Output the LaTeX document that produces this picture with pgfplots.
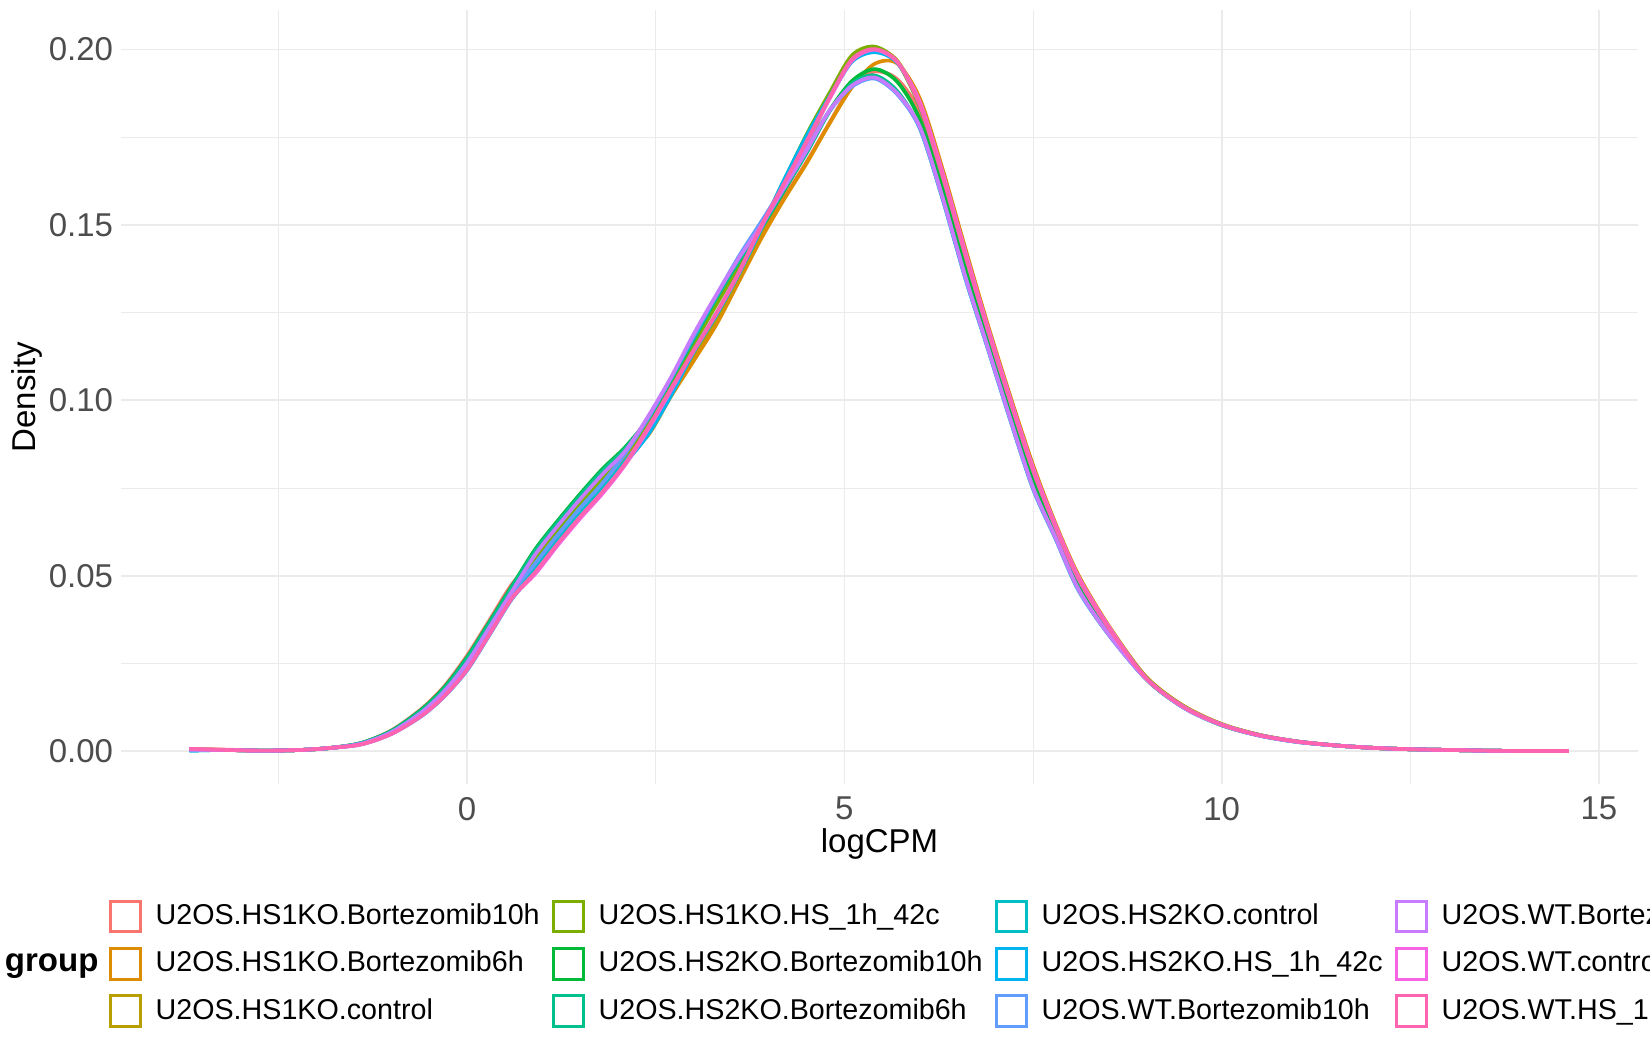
\documentclass[border=0pt]{standalone}
\usepackage{fontspec}
\setmainfont{Liberation Sans}
\usepackage{pgfplots}
\usepackage{pgfplotstable}
\pgfplotsset{compat=1.18}
\definecolor{c1}{HTML}{F8766D}
\definecolor{c2}{HTML}{DE8C00}
\definecolor{c3}{HTML}{B79F00}
\definecolor{c4}{HTML}{7CAE00}
\definecolor{c5}{HTML}{00BA38}
\definecolor{c6}{HTML}{00C08B}
\definecolor{c7}{HTML}{00BFC4}
\definecolor{c8}{HTML}{00B4F0}
\definecolor{c9}{HTML}{619CFF}
\definecolor{c10}{HTML}{C77CFF}
\definecolor{c11}{HTML}{F564E3}
\definecolor{c12}{HTML}{FF64B0}
\definecolor{grey92}{HTML}{EBEBEB}
\definecolor{grey30}{HTML}{4D4D4D}
\pgfplotstableread{
x s1 s2 s3 s4 s5 s6 s7 s8 s9 s10 s11 s12
-3.68 0.0007 0.0006 0.0004 0.0005 0.0004 0.0003 0.0002 0.0002 0.0004 0.0005 0.0006 0.0007
-3.2 0.0005 0.0004 0.0004 0.0004 0.0004 0.0004 0.0004 0.0004 0.0004 0.0004 0.0004 0.0004
-2.7 0.0002 0.0002 0.0002 0.0002 0.0002 0.0002 0.0002 0.0002 0.0002 0.0002 0.0002 0.0002
-2.2 0.0004 0.0004 0.0004 0.0004 0.0004 0.0004 0.0004 0.0004 0.0004 0.0004 0.0004 0.0004
-1.8 0.0010 0.0010 0.0010 0.0010 0.0010 0.0010 0.0010 0.0010 0.0010 0.0010 0.0010 0.0010
-1.4 0.0024 0.0022 0.0022 0.0022 0.0024 0.0024 0.0022 0.0020 0.0022 0.0022 0.0020 0.0020
-1.0 0.0060 0.0056 0.0056 0.0056 0.0059 0.0058 0.0051 0.0050 0.0054 0.0055 0.0050 0.0050
-0.6 0.0122 0.0115 0.0115 0.0115 0.0120 0.0118 0.0105 0.0101 0.0110 0.0112 0.0102 0.0102
-0.3 0.0186 0.0176 0.0176 0.0176 0.0183 0.0180 0.0162 0.0157 0.0168 0.0172 0.0158 0.0158
0.0 0.0273 0.0258 0.0258 0.0258 0.0268 0.0265 0.0238 0.0231 0.0248 0.0253 0.0233 0.0233
0.3 0.0375 0.0360 0.0360 0.0360 0.0370 0.0367 0.0340 0.0333 0.0350 0.0355 0.0335 0.0335
0.6 0.0478 0.0463 0.0463 0.0463 0.0473 0.0470 0.0443 0.0436 0.0453 0.0458 0.0438 0.0438
0.9 0.0545 0.0540 0.0540 0.0550 0.0575 0.0570 0.0520 0.0510 0.0535 0.0560 0.0505 0.0510
1.2 0.0627 0.0622 0.0622 0.0632 0.0657 0.0652 0.0602 0.0592 0.0617 0.0642 0.0587 0.0592
1.5 0.0704 0.0699 0.0699 0.0709 0.0734 0.0729 0.0679 0.0669 0.0694 0.0719 0.0664 0.0669
1.8 0.0776 0.0771 0.0771 0.0781 0.0806 0.0801 0.0751 0.0741 0.0766 0.0791 0.0736 0.0741
2.1 0.0846 0.0843 0.0843 0.0850 0.0868 0.0864 0.0829 0.0822 0.0850 0.0857 0.0818 0.0822
2.4 0.0913 0.0901 0.0913 0.0933 0.0948 0.0948 0.0908 0.0903 0.0950 0.0955 0.0918 0.0923
2.7 0.1023 0.1011 0.1023 0.1043 0.1058 0.1058 0.1018 0.1013 0.1063 0.1065 0.1028 0.1033
3.0 0.1122 0.1112 0.1130 0.1160 0.1175 0.1173 0.1141 0.1137 0.1182 0.1188 0.1141 0.1141
3.3 0.1228 0.1215 0.1232 0.1272 0.1292 0.1290 0.1247 0.1242 0.1298 0.1300 0.1247 0.1247
3.6 0.1348 0.1338 0.1352 0.1383 0.1398 0.1396 0.1364 0.1360 0.1410 0.1405 0.1364 0.1364
3.9 0.1470 0.1462 0.1482 0.1495 0.1492 0.1492 0.1492 0.1490 0.1510 0.1500 0.1495 0.1498
4.2 0.1578 0.1573 0.1600 0.1625 0.1597 0.1600 0.1628 0.1627 0.1612 0.1605 0.1615 0.1618
4.5 0.1680 0.1676 0.1725 0.1758 0.1708 0.1705 0.1755 0.1752 0.1715 0.1712 0.1735 0.1739
4.8 0.1790 0.1788 0.1862 0.1875 0.1825 0.1822 0.1865 0.1862 0.1825 0.1825 0.1858 0.1862
5.1 0.1896 0.1892 0.1975 0.1983 0.1910 0.1903 0.1968 0.1965 0.1894 0.1897 0.1968 0.1972
5.4 0.1937 0.1959 0.2003 0.2008 0.1944 0.1926 0.1995 0.1992 0.1917 0.1920 0.1999 0.2001
5.7 0.1915 0.1960 0.1968 0.1964 0.1908 0.1881 0.1965 0.1962 0.1872 0.1875 0.1964 0.1965
6.0 0.1820 0.1860 0.1845 0.1835 0.1800 0.1775 0.1840 0.1845 0.1775 0.1780 0.1850 0.1840
6.3 0.1620 0.1660 0.1645 0.1635 0.1600 0.1575 0.1640 0.1645 0.1575 0.1580 0.1650 0.1640
6.6 0.1395 0.1435 0.1420 0.1410 0.1375 0.1350 0.1415 0.1420 0.1350 0.1355 0.1425 0.1415
6.9 0.1184 0.1216 0.1204 0.1196 0.1168 0.1148 0.1200 0.1204 0.1148 0.1152 0.1208 0.1200
7.2 0.0979 0.1011 0.0999 0.0991 0.0963 0.0943 0.0995 0.0999 0.0943 0.0947 0.1003 0.0995
7.5 0.0784 0.0816 0.0804 0.0796 0.0768 0.0748 0.0800 0.0804 0.0748 0.0752 0.0808 0.0800
7.8 0.0628 0.0648 0.0640 0.0635 0.0618 0.0605 0.0637 0.0640 0.0605 0.0608 0.0643 0.0637
8.1 0.0483 0.0503 0.0495 0.0490 0.0473 0.0460 0.0492 0.0495 0.0460 0.0463 0.0498 0.0492
8.5 0.0347 0.0359 0.0354 0.0351 0.0341 0.0333 0.0352 0.0354 0.0333 0.0334 0.0356 0.0352
9.0 0.0208 0.0212 0.0211 0.0208 0.0205 0.0206 0.0208 0.0208 0.0206 0.0206 0.0208 0.0208
9.5 0.0126 0.0129 0.0128 0.0126 0.0124 0.0124 0.0126 0.0126 0.0124 0.0124 0.0126 0.0126
10.0 0.0076 0.0078 0.0077 0.0076 0.0074 0.0075 0.0076 0.0076 0.0075 0.0075 0.0076 0.0076
10.5 0.0046 0.0047 0.0047 0.0046 0.0045 0.0045 0.0046 0.0046 0.0045 0.0045 0.0046 0.0046
11.0 0.0028 0.0028 0.0028 0.0028 0.0027 0.0027 0.0028 0.0028 0.0027 0.0027 0.0028 0.0028
11.5 0.0017 0.0017 0.0017 0.0017 0.0017 0.0017 0.0017 0.0017 0.0017 0.0017 0.0017 0.0017
12.0 0.0010 0.0010 0.0010 0.0010 0.0010 0.0010 0.0010 0.0010 0.0010 0.0010 0.0010 0.0010
12.5 0.0006 0.0006 0.0006 0.0006 0.0006 0.0006 0.0006 0.0006 0.0006 0.0006 0.0006 0.0006
13.0 0.0004 0.0004 0.0004 0.0004 0.0004 0.0004 0.0004 0.0004 0.0004 0.0004 0.0004 0.0004
13.5 0.0002 0.0002 0.0002 0.0002 0.0002 0.0002 0.0002 0.0002 0.0002 0.0002 0.0002 0.0002
14.0 0.0001 0.0001 0.0001 0.0001 0.0001 0.0001 0.0001 0.0001 0.0001 0.0001 0.0001 0.0001
14.6 0.0001 0.0001 0.0001 0.0001 0.0001 0.0001 0.0001 0.0001 0.0001 0.0001 0.0001 0.0001
}\dens
\begin{document}
\begin{tikzpicture}
\useasboundingbox (0,0) rectangle (495pt,315pt);
\begin{axis}[
  at={(36.3pt,79.8pt)}, anchor=south west,
  scale only axis, width=455.1pt, height=232.05pt,
  xmin=-4.587, xmax=15.517, ymin=-0.0093, ymax=0.2111,
  axis line style={draw=none},
  major tick length=0pt, minor tick length=0pt,
  xtick={0,5,10,15}, xticklabels={0,5,10,15},
  ytick={0,0.05,0.1,0.15,0.2}, yticklabels={0.00,0.05,0.10,0.15,0.20},
  minor xtick={-2.5,2.5,7.5,12.5}, minor ytick={0.025,0.075,0.125,0.175},
  grid=both,
  major grid style={draw=grey92, line width=0.55pt},
  minor grid style={draw=grey92, line width=0.3pt},
  tick label style={font=\fontsize{9.9}{11}\selectfont, text=grey30},
  xticklabel style={anchor=north, inner sep=0pt, yshift=-3.7pt},
  yticklabel style={anchor=east, inner sep=0pt, xshift=-2.2pt},
  legend columns=3, transpose legend,
  legend cell align=left,
  legend style={at={(-0.00769,-0.14954)}, anchor=north west, draw=none, fill=none,
    inner sep=0pt, outer sep=0pt, font=\fontsize{8.6}{10}\selectfont,
    nodes={inner sep=0pt}, row sep=4.1pt,
    /tikz/every odd column/.append style={column sep=4.1pt},
    /tikz/every even column/.append style={column sep=3.8pt}},
  legend image code/.code={\draw[#1, line width=0.9pt, fill=white] (0.45pt,-4.6pt) rectangle (9.35pt,4.6pt);},
  every axis plot/.append style={line width=1.1pt, smooth}
]
\addplot[c1] table[x=x, y=s1] {\dens};
\addplot[c2] table[x=x, y=s2] {\dens};
\addplot[c3] table[x=x, y=s3] {\dens};
\addplot[c4] table[x=x, y=s4] {\dens};
\addplot[c5] table[x=x, y=s5] {\dens};
\addplot[c6] table[x=x, y=s6] {\dens};
\addplot[c7] table[x=x, y=s7] {\dens};
\addplot[c8] table[x=x, y=s8] {\dens};
\addplot[c9] table[x=x, y=s9] {\dens};
\addplot[c10] table[x=x, y=s10] {\dens};
\addplot[c11] table[x=x, y=s11] {\dens};
\addplot[c12] table[x=x, y=s12] {\dens};
\legend{U2OS.HS1KO.Bortezomib10h, U2OS.HS1KO.Bortezomib6h, U2OS.HS1KO.control,
  U2OS.HS1KO.HS\_1h\_42c, U2OS.HS2KO.Bortezomib10h, U2OS.HS2KO.Bortezomib6h,
  U2OS.HS2KO.control, U2OS.HS2KO.HS\_1h\_42c, U2OS.WT.Bortezomib10h,
  U2OS.WT.Bortezomib6h, U2OS.WT.control, U2OS.WT.HS\_1h\_42c}
\end{axis}
\node[anchor=base, inner sep=0pt, font=\fontsize{9.9}{11}\selectfont] at (263.85pt,59.1pt) {logCPM};
\node[rotate=90, anchor=center, inner sep=0pt, font=\fontsize{9.9}{11}\selectfont] at (8.1pt,195.8pt) {Density};
\node[anchor=base west, inner sep=0pt, font=\fontsize{9.9}{11}\selectfont\bfseries] at (1.3pt,23.4pt) {group};
\end{tikzpicture}
\end{document}
